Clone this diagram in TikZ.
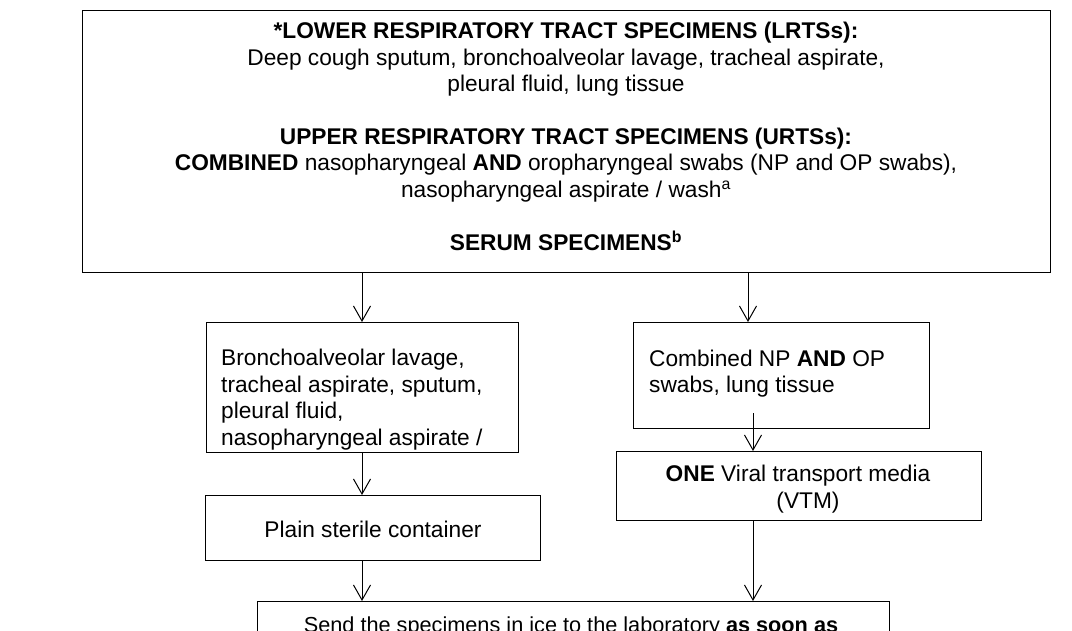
\documentclass[tikz,border=0pt]{standalone}
\usepackage{fontspec}
\setmainfont{Liberation Sans}
\usetikzlibrary{arrows.meta}
\begin{document}
\begin{tikzpicture}[x=1pt,y=-1pt,
  box/.style={draw=black, line width=1.2pt, rectangle, inner sep=0pt, anchor=north west},
  txt/.style={inner sep=0pt, font=\fontsize{22.7}{26.4}\selectfont},
  arr/.style={line width=1pt, -{Straight Barb[length=15pt,width=17pt,line width=1pt]}}]
\useasboundingbox (0,0) rectangle (1072,630);
\clip (0,0) rectangle (1072,630);
\fill[white] (0,0) rectangle (1072,630);
% boxes
\node[box, minimum width=968, minimum height=262] (top) at (82,10) {};
\node[box, minimum width=312, minimum height=130] (b2) at (206,322) {};
\node[box, minimum width=296, minimum height=106] (b4) at (633,322) {};
\node[box, minimum width=335, minimum height=65] (b3) at (205,495) {};
\node[box, minimum width=365, minimum height=69] (b5) at (616,451) {};
\node[box, minimum width=632, minimum height=120] (b6) at (257,601) {};
% texts (base anchor = baseline of the last line)
\node[txt, anchor=base, align=center] (ttop) at (566,250) {%
\textbf{*LOWER RESPIRATORY TRACT SPECIMENS (LRTSs):}\\
Deep cough sputum, bronchoalveolar lavage, tracheal aspirate,\\
pleural fluid, lung tissue\\[26.4pt]
\textbf{UPPER RESPIRATORY TRACT SPECIMENS (URTSs):}\\
\textbf{COMBINED} nasopharyngeal \textbf{AND} oropharyngeal swabs (NP and OP swabs),\\
nasopharyngeal aspirate / wash\textsuperscript{a}\\[26.4pt]
\textbf{SERUM SPECIMENS\textsuperscript{b}}};
\begin{scope}
\clip (b2.north west) rectangle (b2.south east);
\node[txt, anchor=base west, align=left] (t2) at (221,445) {%
Bronchoalveolar lavage,\\
tracheal aspirate, sputum,\\
pleural fluid,\\
nasopharyngeal aspirate /};
\end{scope}
\node[txt, anchor=base west, align=left] (t4) at (649,392.5) {%
Combined NP \textbf{AND} OP\\
swabs, lung tissue};
\node[txt, anchor=base] (t3) at (373,537) {Plain sterile container};
\node[txt, anchor=base, align=center] (t5) at (798,508) {%
\textbf{ONE} Viral transport media\\
\hspace*{20pt}(VTM)};
\node[txt, anchor=base, font=\fontsize{21.7}{26}\selectfont] (t6) at (571,632) {Send the specimens in ice to the laboratory \textbf{as soon as}};
% connectors
\coordinate (xl) at (362,0);
\coordinate (xr) at (748,0);
\coordinate (r2) at (753,413);
\draw[arr] (top.south -| xl) -- (b2.north -| xl);
\draw[arr] (top.south -| xr) -- (b4.north -| xr);
\draw[arr] (b2.south -| xl) -- (b3.north -| xl);
\draw[arr] (r2) -- (b5.north -| r2);
\draw[arr] (b3.south -| xl) -- (b6.north -| xl);
\draw[arr] (b5.south -| r2) -- (b6.north -| r2);
\end{tikzpicture}
\end{document}
